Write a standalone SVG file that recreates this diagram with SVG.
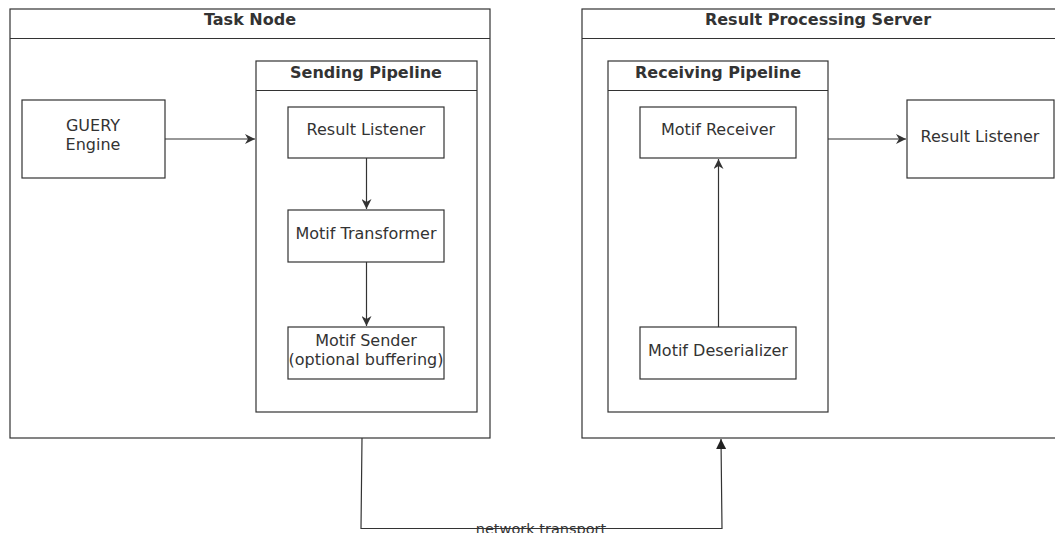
<svg xmlns="http://www.w3.org/2000/svg" width="1055" height="533" viewBox="0 0 1055 533">
<style>
.box{fill:#fff;stroke:#333;stroke-width:1.2}
.ln{fill:none;stroke:#333;stroke-width:1.2}
.t{font-family:"DejaVu Sans",sans-serif;font-size:16px;fill:#333;text-anchor:middle}
.h{font-family:"DejaVu Sans",sans-serif;font-size:16px;font-weight:bold;fill:#333;text-anchor:middle}
.s{font-family:"DejaVu Sans",sans-serif;font-size:14.5px;fill:#333;text-anchor:middle}
</style>
<defs>
<marker id="a" viewBox="0 0 10 10" refX="10" refY="5" markerWidth="10" markerHeight="10" markerUnits="userSpaceOnUse" orient="auto">
<path d="M0,0 L10,5 L0,10 L3,5 Z" fill="#333"/>
</marker>
<marker id="b" viewBox="0 0 10 10" refX="10" refY="5" markerWidth="10" markerHeight="10" markerUnits="userSpaceOnUse" orient="auto">
<path d="M0,0 L10,5 L0,10 Z" fill="#222"/>
</marker>
</defs>
<rect width="1055" height="533" fill="#fff"/>
<g id="task-node">
<rect class="box" x="10" y="9" width="480" height="429"/>
<line class="ln" x1="10" y1="38.5" x2="490" y2="38.5"/>
<text class="h" x="250" y="25">Task Node</text>
</g>
<g id="result-server">
<rect class="box" x="582" y="9" width="480" height="429"/>
<line class="ln" x1="582" y1="38.5" x2="1062" y2="38.5"/>
<text class="h" x="818" y="25">Result Processing Server</text>
</g>
<g id="sending-pipeline">
<rect class="box" x="256" y="61" width="221" height="351"/>
<line class="ln" x1="256" y1="90.5" x2="477" y2="90.5"/>
<text class="h" x="366" y="78">Sending Pipeline</text>
</g>
<g id="receiving-pipeline">
<rect class="box" x="608" y="61" width="220" height="351"/>
<line class="ln" x1="608" y1="90.5" x2="828" y2="90.5"/>
<text class="h" x="718" y="78">Receiving Pipeline</text>
</g>
<g id="guery-engine">
<rect class="box" x="22" y="100" width="143" height="78"/>
<text class="t" x="93" y="131">GUERY</text>
<text class="t" x="93" y="150">Engine</text>
</g>
<g id="result-listener-left">
<rect class="box" x="288" y="107" width="156" height="51"/>
<text class="t" x="366" y="135">Result Listener</text>
</g>
<g id="motif-transformer">
<rect class="box" x="288" y="210" width="156" height="52"/>
<text class="t" x="366" y="239">Motif Transformer</text>
</g>
<g id="motif-sender">
<rect class="box" x="288" y="327" width="156" height="52"/>
<text class="t" x="366" y="346">Motif Sender</text>
<text class="t" x="366" y="365">(optional buffering)</text>
</g>
<g id="motif-receiver">
<rect class="box" x="640" y="107" width="156" height="51"/>
<text class="t" x="718" y="135">Motif Receiver</text>
</g>
<g id="motif-deserializer">
<rect class="box" x="640" y="327" width="156" height="52"/>
<text class="t" x="718" y="356">Motif Deserializer</text>
</g>
<g id="result-listener-right">
<rect class="box" x="907" y="100" width="147" height="78"/>
<text class="t" x="980" y="142">Result Listener</text>
</g>
<g id="connectors">
<line class="ln" x1="165" y1="139" x2="255" y2="139" marker-end="url(#a)"/>
<line class="ln" x1="828" y1="139" x2="906" y2="139" marker-end="url(#a)"/>
<line class="ln" x1="366.5" y1="158" x2="366.5" y2="209" marker-end="url(#a)"/>
<line class="ln" x1="366.5" y1="262" x2="366.5" y2="326" marker-end="url(#a)"/>
<line class="ln" x1="718.5" y1="327" x2="718.5" y2="159" marker-end="url(#a)"/>
<path class="ln" d="M362,438 L361,528.5 L722,528.5 L721,439" marker-end="url(#b)"/>
<text class="s" x="541" y="533.5">network transport</text>
</g>
</svg>
